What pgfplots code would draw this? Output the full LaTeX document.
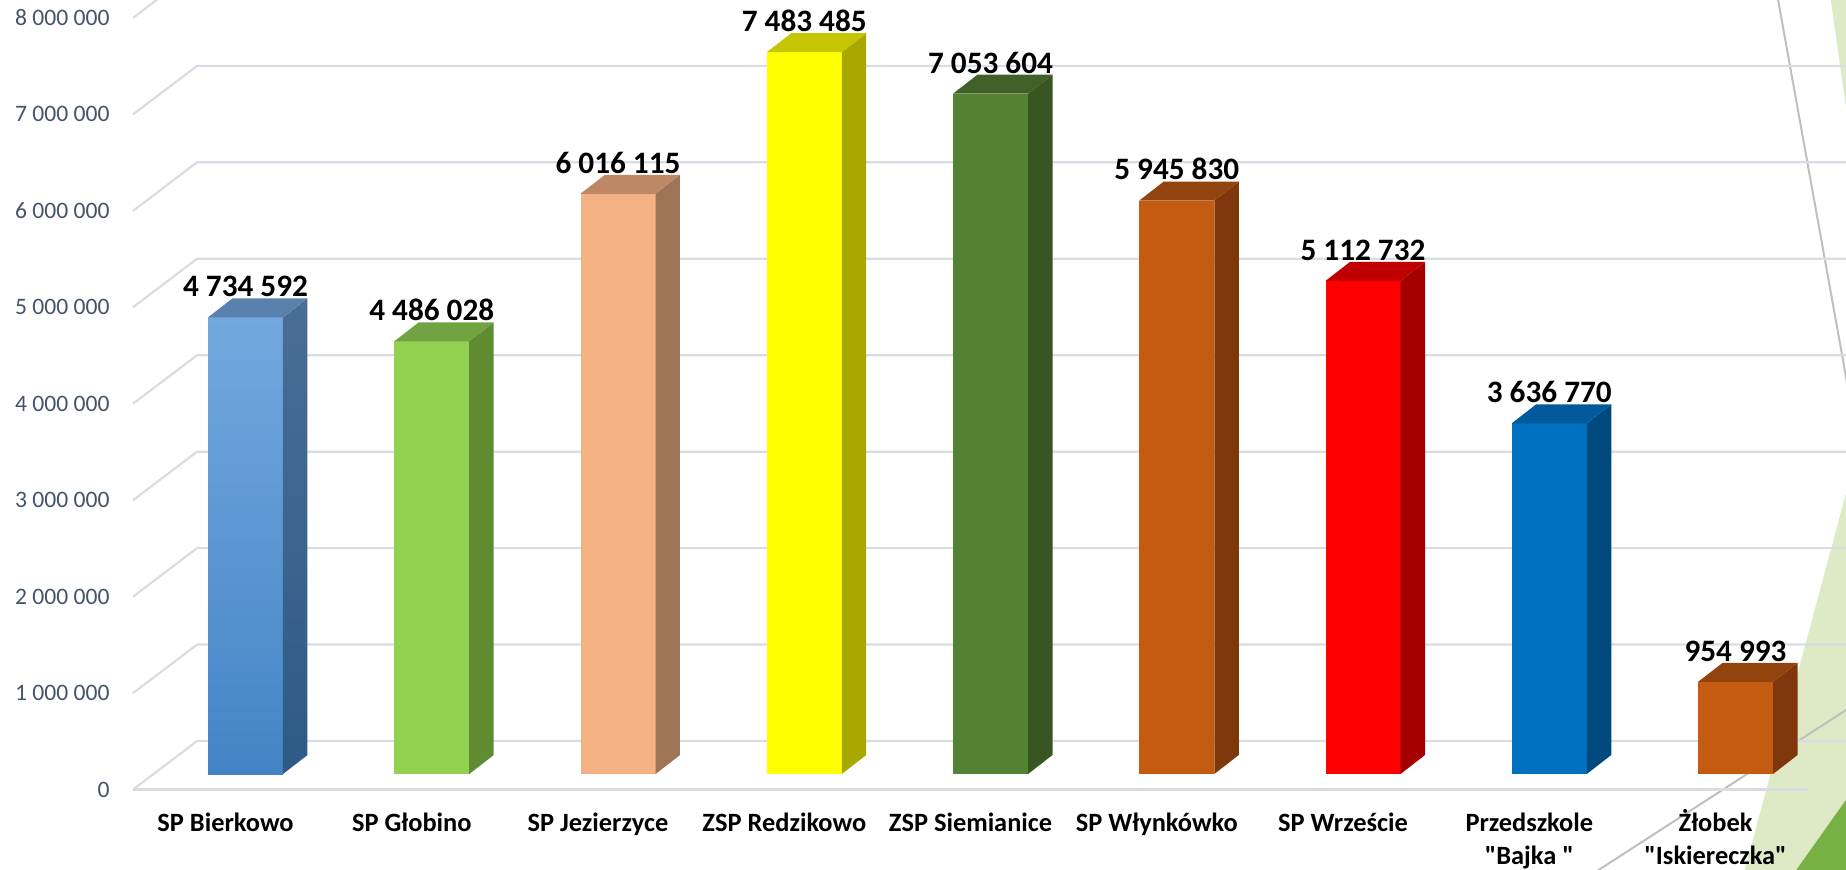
\documentclass[border=0pt]{standalone}
\usepackage{pgfplots}
\pgfplotsset{compat=1.18}
\usepackage{pgfplotstable}
\usepgflibrary{fpu}
\usepackage{fontspec}
\setmainfont{Carlito}

\definecolor{gridc}{HTML}{D9DCE3}
\definecolor{tickc}{HTML}{44546A}
\definecolor{lgreen}{HTML}{DDEAC5}
\definecolor{dgreen}{HTML}{77B143}
\definecolor{decogray}{HTML}{BFBFBF}

\pgfplotsset{
  front0/.style={top color=73A8DEc, bottom color=4384C6c},
  side0/.style={top color=4A6E96c, bottom color=2D5A86c},
  top0/.style={fill=5A81ADc},
  front1/.style={fill=92D050c}, side1/.style={fill=5F8B31c}, top1/.style={fill=72A342c},
  front2/.style={fill=F4B183c}, side2/.style={fill=9D7455c}, top2/.style={fill=BE8766c},
  front3/.style={fill=FFFF00c}, side3/.style={fill=A8A800c}, top3/.style={fill=C5C500c},
  front4/.style={fill=548235c}, side4/.style={fill=375622c}, top4/.style={fill=3F6128c},
  front5/.style={fill=C55A11c}, side5/.style={fill=7E380Bc}, top5/.style={fill=93430Ec},
  front6/.style={fill=FF0000c}, side6/.style={fill=A40000c}, top6/.style={fill=C00000c},
  front7/.style={fill=0070C0c}, side7/.style={fill=00497Ec}, top7/.style={fill=005A9Bc},
  front8/.style={fill=C55A11c}, side8/.style={fill=7E380Bc}, top8/.style={fill=93430Ec},
}
\definecolor{73A8DEc}{HTML}{73A8DE}
\definecolor{4384C6c}{HTML}{4384C6}
\definecolor{4A6E96c}{HTML}{4A6E96}
\definecolor{2D5A86c}{HTML}{2D5A86}
\definecolor{5A81ADc}{HTML}{5A81AD}
\definecolor{92D050c}{HTML}{92D050}
\definecolor{5F8B31c}{HTML}{5F8B31}
\definecolor{72A342c}{HTML}{72A342}
\definecolor{F4B183c}{HTML}{F4B183}
\definecolor{9D7455c}{HTML}{9D7455}
\definecolor{BE8766c}{HTML}{BE8766}
\definecolor{FFFF00c}{HTML}{FFFF00}
\definecolor{A8A800c}{HTML}{A8A800}
\definecolor{C5C500c}{HTML}{C5C500}
\definecolor{548235c}{HTML}{548235}
\definecolor{375622c}{HTML}{375622}
\definecolor{3F6128c}{HTML}{3F6128}
\definecolor{C55A11c}{HTML}{C55A11}
\definecolor{7E380Bc}{HTML}{7E380B}
\definecolor{93430Ec}{HTML}{93430E}
\definecolor{FF0000c}{HTML}{FF0000}
\definecolor{A40000c}{HTML}{A40000}
\definecolor{C00000c}{HTML}{C00000}
\definecolor{0070C0c}{HTML}{0070C0}
\definecolor{00497Ec}{HTML}{00497E}
\definecolor{005A9Bc}{HTML}{005A9B}

\pgfplotstableread[col sep=comma]{
i,v,lab
0,4734592,4~734~592
1,4486028,4~486~028
2,6016115,6~016~115
3,7483485,7~483~485
4,7053604,7~053~604
5,5945830,5~945~830
6,5112732,5~112~732
7,3636770,3~636~770
8,954993,954~993
}\data

\begin{document}
\begin{tikzpicture}
\begin{axis}[
  x=93.125pt, y=48.225pt,
  xmin=-1.3181, xmax=8.5933,
  ymin=-0.985, ymax=8.025,
  axis on top,
  axis line style={draw=none},
  major tick length=0pt,
  tick style={draw=none},
  xtick={-0.107,0.893,1.893,2.893,3.893,4.893,5.893,6.893,7.893},
  xticklabels={{SP Bierkowo\\\mbox{}}, {SP Głobino\\\mbox{}}, {SP Jezierzyce\\\mbox{}}, {ZSP Redzikowo\\\mbox{}}, {ZSP Siemianice\\\mbox{}}, {SP Włynkówko\\\mbox{}}, {SP Wrzeście\\\mbox{}}, {Przedszkole\\\textquotedbl Bajka \textquotedbl}, {Żłobek\\\textquotedbl Iskiereczka\textquotedbl}},
  xticklabel style={anchor=base, yshift=2.5pt, align=center, inner sep=0pt,
    font=\fontsize{13.2}{16.5}\selectfont\bfseries, text=black},
  ytick={-0.161,0.839,1.839,2.839,3.839,4.839,5.839,6.839,7.839},
  yticklabels={0,1~000~000,2~000~000,3~000~000,4~000~000,5~000~000,6~000~000,7~000~000,8~000~000},
  yticklabel style={anchor=east, xshift=55pt, inner xsep=0pt,
    font=\fontsize{11.8}{14}\selectfont, text=tickc},
  clip=true,
]
% background decoration
\addplot[draw=none, fill=lgreen, mark=none] coordinates {(8.504,8.129) (8.722,8.129) (8.722,5.148)};
\addplot[draw=none, fill=lgreen, mark=none] coordinates {(8.0349,-1.099) (8.722,-1.099) (8.722,3.836)};
\addplot[draw=none, fill=dgreen, mark=none] coordinates {(8.288,-1.099) (8.722,-1.099) (8.722,0.083)};
\addplot[decogray, line width=1pt, mark=none] coordinates {(8.219,8.129) (8.722,2.737)};
\addplot[decogray, line width=1pt, mark=none] coordinates {(7.219,-1.052) (8.722,0.824)};
% walls and grid
\addplot[gridc, line width=1.1pt, mark=none] coordinates {(8.389,-0.161) (-0.604,-0.161)};
\pgfplotsinvokeforeach{0,...,8}{
  \pgfmathsetmacro\ya{#1-0.161}
  \pgfmathsetmacro\yb{#1+0.342}
  \addplot[gridc, line width=1.1pt, mark=none] coordinates {(-0.604,\ya) (-0.260,\yb) (8.75,\yb)};
}
% bars
\pgfplotsinvokeforeach{0,...,8}{
  \pgfplotstablegetelem{#1}{v}\of\data
  \pgfkeys{/pgf/fpu=true,/pgf/fpu/output format=fixed}
  \pgfmathparse{\pgfplotsretval/1000000}\let\yVal\pgfmathresult
  \pgfmathparse{\yVal+0.197}\let\yTop\pgfmathresult
  \pgfkeys{/pgf/fpu=false}
  \pgfmathsetmacro\xL{#1-0.2013}
  \pgfmathsetmacro\xR{#1+0.2013}
  \pgfmathsetmacro\xB{#1+0.3328}
  \pgfmathsetmacro\xA{#1-0.0698}
  \addplot[ybar, bar shift=0pt, bar width=0.4026, draw=none, front#1] coordinates {(#1,\yVal)};
  \addplot[draw=none, mark=none, side#1] coordinates {(\xR,0) (\xB,0.197) (\xB,\yTop) (\xR,\yVal)};
  \addplot[draw=none, mark=none, top#1] coordinates {(\xL,\yVal) (\xR,\yVal) (\xB,\yTop) (\xA,\yTop)};
}
% value labels
\addplot[draw=none, mark=none, nodes near coords, point meta=explicit symbolic,
  nodes near coords style={anchor=south, inner sep=0pt, yshift=0.5pt,
    font=\fontsize{15.6}{18}\selectfont\bfseries, text=black}]
  table[x=i, y expr=\thisrow{v}/1000000+0.197, meta=lab]{\data};
\end{axis}
\pgfresetboundingbox
\useasboundingbox (current axis.south west) rectangle (current axis.north east);
\end{tikzpicture}
\end{document}
